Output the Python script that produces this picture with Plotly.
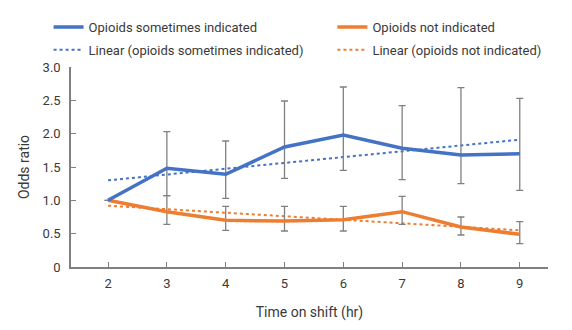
import plotly.graph_objects as go

hours = [2, 3, 4, 5, 6, 7, 8, 9]

some_or = [1.00, 1.48, 1.39, 1.80, 1.98, 1.78, 1.68, 1.70]
some_hi = [1.00, 2.03, 1.89, 2.49, 2.70, 2.42, 2.69, 2.53]
some_lo = [1.00, 1.07, 1.03, 1.33, 1.45, 1.31, 1.25, 1.15]

not_or = [1.00, 0.83, 0.70, 0.69, 0.71, 0.83, 0.60, 0.49]
not_hi = [1.00, 1.07, 0.91, 0.91, 0.91, 1.06, 0.75, 0.68]
not_lo = [1.00, 0.64, 0.55, 0.54, 0.54, 0.64, 0.48, 0.35]

trend_x = [2, 9]
some_trend = [1.30, 1.91]
not_trend = [0.92, 0.55]

y_ticks = [0, 0.5, 1.0, 1.5, 2.0, 2.5, 3.0]
y_tick_text = ["0", "0.5", "1.0", "1.5", "2.0", "2.5", "3.0"]

BLUE = "#4472C4"
ORANGE = "#ED7D31"
GREY = "#808080"
TXT = "#3a3a3a"
FONT = "Roboto, sans-serif"

fig = go.Figure()

fig.add_trace(go.Scatter(
    x=trend_x, y=some_trend, mode="lines", name="Linear (opioids sometimes indicated)",
    line=dict(color=BLUE, width=2, dash="dot"), legend="legend", legendrank=2,
    legendgroup="bt"))
fig.add_trace(go.Scatter(
    x=trend_x, y=not_trend, mode="lines", name="Linear (opioids not indicated)",
    line=dict(color=ORANGE, width=2, dash="dot"), legend="legend2", legendrank=2,
    legendgroup="ot"))

fig.add_trace(go.Scatter(
    x=hours, y=not_or, mode="lines", name="Opioids not indicated",
    line=dict(color=ORANGE, width=3.5),
    error_y=dict(type="data", symmetric=False,
                 array=[h - v for h, v in zip(not_hi, not_or)],
                 arrayminus=[v - l for v, l in zip(not_or, not_lo)],
                 color=GREY, thickness=1.3, width=3.5),
    legend="legend2", legendrank=1, legendgroup="o"))
fig.add_trace(go.Scatter(
    x=hours, y=some_or, mode="lines", name="Opioids sometimes indicated",
    line=dict(color=BLUE, width=3.5),
    error_y=dict(type="data", symmetric=False,
                 array=[h - v for h, v in zip(some_hi, some_or)],
                 arrayminus=[v - l for v, l in zip(some_or, some_lo)],
                 color=GREY, thickness=1.3, width=3.5),
    legend="legend", legendrank=1, legendgroup="b"))

legend_common = dict(orientation="v", yanchor="top", xanchor="left",
                     bgcolor="rgba(0,0,0,0)",
                     font=dict(family=FONT, size=13, color=TXT),
                     tracegroupgap=3, itemwidth=30, traceorder="grouped")

fig.update_layout(
    width=572, height=330,
    margin=dict(l=63, r=32, t=59, b=71, autoexpand=False),
    paper_bgcolor="white", plot_bgcolor="white",
    font=dict(family=FONT, size=13, color=TXT),
    legend=dict(x=-0.047, y=1.275, **legend_common),
    legend2=dict(x=0.548, y=1.275, **legend_common),
    xaxis=dict(range=[1.37, 9.48], tickmode="array", tickvals=hours,
               showgrid=False, zeroline=False, showline=True, linecolor=GREY,
               linewidth=1.5, ticks="inside", ticklen=5, tickcolor=GREY,
               ticklabelstandoff=4,
               tickfont=dict(size=13, color=TXT),
               title=dict(text="Time on shift (hr)", font=dict(size=14, color=TXT), standoff=17)),
    yaxis=dict(range=[0, 3.0], tickmode="array", tickvals=y_ticks, ticktext=y_tick_text,
               showgrid=False, zeroline=False, showline=True, linecolor=GREY,
               linewidth=1.5, ticks="inside", ticklen=5, tickcolor=GREY,
               ticklabelstandoff=6,
               tickfont=dict(size=13, color=TXT),
               title=dict(text="Odds ratio", font=dict(size=14, color=TXT), standoff=10)),
)

fig.write_html("out.html")
